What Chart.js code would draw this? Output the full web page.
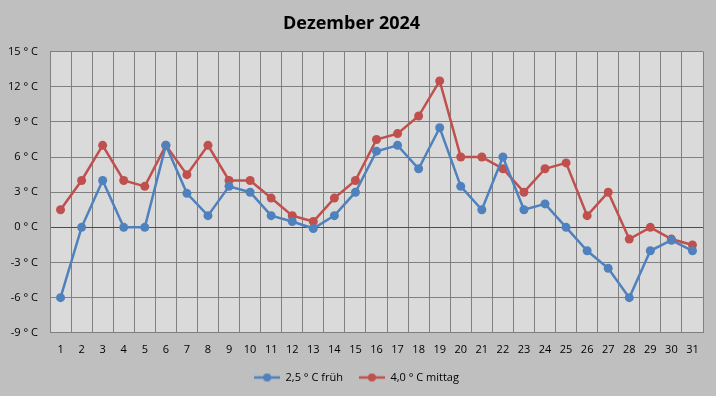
<!DOCTYPE html>
<html>
<head>
<meta charset="utf-8">
<script src="https://cdn.jsdelivr.net/npm/chart.js@4/dist/chart.umd.min.js"></script>
<style>
  html, body { margin: 0; padding: 0; background: #c0bfc0; }
  #wrap { width: 716px; height: 396px; }
</style>
</head>
<body>
<div id="wrap"><canvas id="DecChart" width="716" height="396"></canvas></div>
<script>
const days = Array.from({ length: 31 }, (_, i) => String(i + 1));

// morning values (früh)
const earlyTemps = [
  -6, 0, 4, 0, 0, 7, 2.9, 1, 3.5, 3, 1, 0.5, -0.1, 1, 3, 6.5,
  7, 5, 8.5, 3.5, 1.5, 6, 1.5, 2, 0, -2, -3.5, -6, -2, -1.1, -2,
];

// midday values (mittag)
const noonTemps = [
  1.5, 4, 7, 4, 3.5, 7, 4.5, 7, 4, 4, 2.5, 1, 0.5, 2.5, 4, 7.5,
  8, 9.5, 12.5, 6, 6, 5, 3, 5, 5.5, 1, 3, -1, 0, -1, -1.5,
];

const seriesNames = ["2,5 ° C früh", "4,0 ° C mittag"];
const seriesColors = ["#4f81bd", "#c0504d"];

// line + dot legend marker, with some empty room on the left for spacing
function legendIcon(color) {
  const c = document.createElement("canvas");
  c.width = 36;
  c.height = 10;
  const g = c.getContext("2d");
  g.strokeStyle = color;
  g.lineWidth = 2.5;
  g.beginPath();
  g.moveTo(10, 5);
  g.lineTo(36, 5);
  g.stroke();
  g.fillStyle = color;
  g.beginPath();
  g.arc(23, 5, 4, 0, Math.PI * 2);
  g.fill();
  return c;
}

const plotBackground = {
  id: "plotBackground",
  beforeDraw(chart) {
    const { ctx, chartArea } = chart;
    ctx.save();
    ctx.fillStyle = "#c0bfc0";
    ctx.fillRect(0, 0, chart.width, chart.height);
    ctx.fillStyle = "#dadada";
    ctx.fillRect(chartArea.left, chartArea.top, chartArea.right - chartArea.left, chartArea.bottom - chartArea.top);
    ctx.restore();
  },
};

const ctx = document.getElementById("DecChart").getContext("2d");

new Chart(ctx, {
  type: "line",
  data: {
    labels: days,
    datasets: [
      {
        label: seriesNames[0],
        data: earlyTemps,
        borderColor: seriesColors[0],
        backgroundColor: seriesColors[0],
        borderWidth: 2.5,
        pointRadius: 4.5,
        pointBorderWidth: 0,
        pointHoverRadius: 4.5,
        tension: 0,
      },
      {
        label: seriesNames[1],
        data: noonTemps,
        borderColor: seriesColors[1],
        backgroundColor: seriesColors[1],
        borderWidth: 2.5,
        pointRadius: 4.5,
        pointBorderWidth: 0,
        pointHoverRadius: 4.5,
        tension: 0,
      },
    ],
  },
  options: {
    responsive: false,
    animation: false,
    layout: { padding: { left: 0, right: 13, top: 0, bottom: 3 } },
    scales: {
      x: {
        offset: true,
        grid: { offset: true, color: "#808080", drawTicks: false },
        border: { color: "#808080" },
        ticks: {
          color: "#000",
          padding: 10,
          maxRotation: 0,
          autoSkip: false,
          font: { family: "Open Sans", size: 11 },
        },
      },
      y: {
        min: -9,
        max: 15,
        afterFit(scale) { scale.width = 50; },
        grid: {
          drawTicks: false,
          color: (c) => (c.tick && c.tick.value === 0 ? "#ff0000" : "#808080"),
          lineWidth: 1,
        },
        border: { color: "#808080" },
        ticks: {
          stepSize: 3,
          color: "#000",
          padding: 12,
          font: { family: "Open Sans", size: 11 },
          callback: (v) => v + " ° C",
        },
      },
    },
    plugins: {
      title: {
        display: true,
        text: "Dezember 2024",
        color: "#000",
        font: { family: "Open Sans", size: 18, weight: "bold" },
        padding: { top: 13, bottom: 17 },
      },
      legend: {
        position: "bottom",
        labels: {
          color: "#000",
          font: { family: "Open Sans", size: 11 },
          usePointStyle: true,
          pointStyleWidth: 36,
          padding: 6,
          generateLabels: (chart) =>
            chart.data.datasets.map((ds, i) => ({
              text: ds.label,
              fontColor: "#000",
              pointStyle: legendIcon(seriesColors[i]),
              datasetIndex: i,
              lineWidth: 0,
              hidden: false,
            })),
        },
      },
      tooltip: { enabled: false },
    },
  },
  plugins: [plotBackground],
});
</script>
</body>
</html>
